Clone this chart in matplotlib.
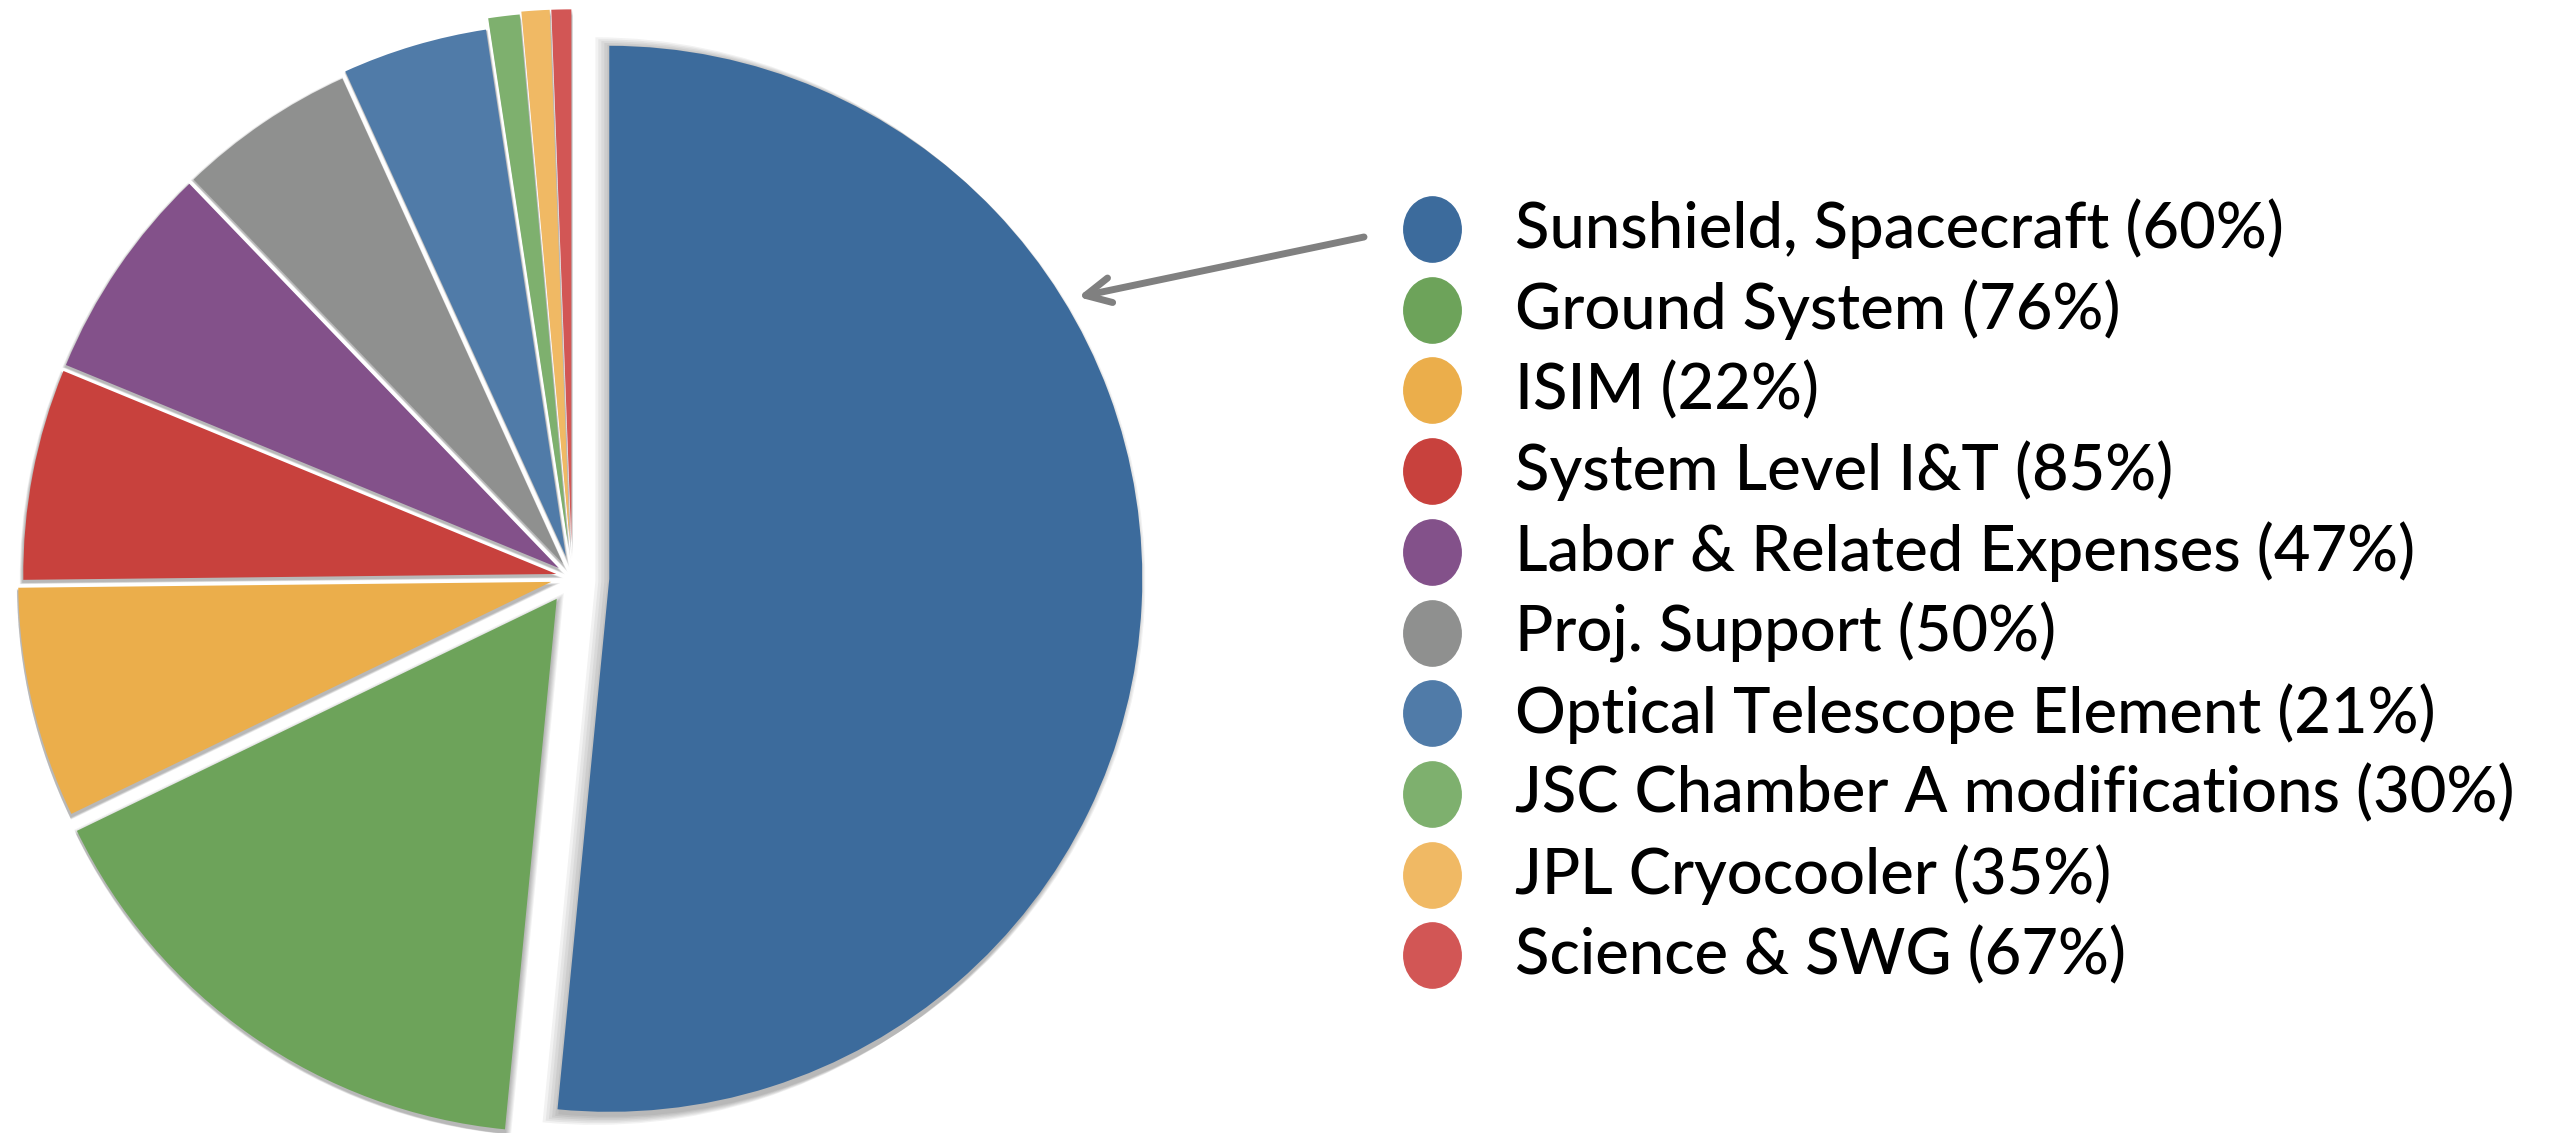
import matplotlib
matplotlib.use("Agg")
import matplotlib.pyplot as plt
import matplotlib.path as mpath
from matplotlib.transforms import Affine2D

# Budget elements (share of pie) and legend labels
names = ["Sunshield, Spacecraft", "Ground System", "ISIM", "System Level I&T",
         "Labor & Related Expenses", "Proj. Support", "Optical Telescope Element",
         "JSC Chamber A modifications", "JPL Cryocooler", "Science & SWG"]
pct_complete = [60, 76, 22, 85, 47, 50, 21, 30, 35, 67]
shares = [51.6, 16.3, 7.0, 6.4, 6.6, 5.4, 4.4, 0.95, 0.85, 0.6]
colors = ["#3C6B9C", "#6DA35A", "#EBAE4B", "#C8413D", "#83518A",
          "#8F908F", "#507BA8", "#7EB06E", "#F0B964", "#D25655"]
explode = [0.07, 0.05, 0.04, 0.03, 0.03, 0.03, 0.04, 0.06, 0.065, 0.065]

W, H = 2561, 1133
fig = plt.figure(figsize=(W / 100, H / 100), dpi=100)
ax = fig.add_axes([0, 0, 1, 1])

R = 533
cx, cy = 572, H - 577
offsets = [e * R for e in explode]  # pie explode is in data units

# soft drop shadow: translucent dark pies, pulled in a bit so they show in the gaps
for f in [1.0, 0.92, 0.84, 0.76, 0.68, 0.6]:
    ax.pie(shares, colors=["#000000"] * len(shares),
           explode=[o * f for o in offsets], startangle=90, counterclock=False,
           radius=R + 2 + (1 - f) * 22, center=(cx + 1, cy - 3),
           wedgeprops=dict(linewidth=0, alpha=0.05))

ax.pie(shares, colors=colors, explode=offsets, startangle=90, counterclock=False,
       radius=R, center=(cx, cy), wedgeprops=dict(linewidth=0))

ax.set_xlim(0, W)
ax.set_ylim(0, H)
ax.set_aspect("equal")
ax.axis("off")

# legend drawn by hand: tall ellipse markers + text
ellipse = mpath.Path.unit_circle().transformed(Affine2D().scale(0.88, 1.0))
y0, dy = H - 229, 80.7
for i, (name, p, c) in enumerate(zip(names, pct_complete, colors)):
    y = y0 - i * dy
    ax.plot([1432], [y], marker=ellipse, markersize=47, color=c, linestyle="none")
    ax.text(1515, y, f"{name} ({p}%)", fontsize=45.5, family="Lato", fontweight=500,
            va="center", ha="left", color="#000000")

# arrow from legend to the big slice
ax.annotate("", xy=(1078, H - 297), xytext=(1364, H - 237),
            arrowprops=dict(arrowstyle="->", color="#808080", lw=5,
                            mutation_scale=45, shrinkA=0, shrinkB=0))

fig.savefig("out.png", dpi=100, facecolor="white")
